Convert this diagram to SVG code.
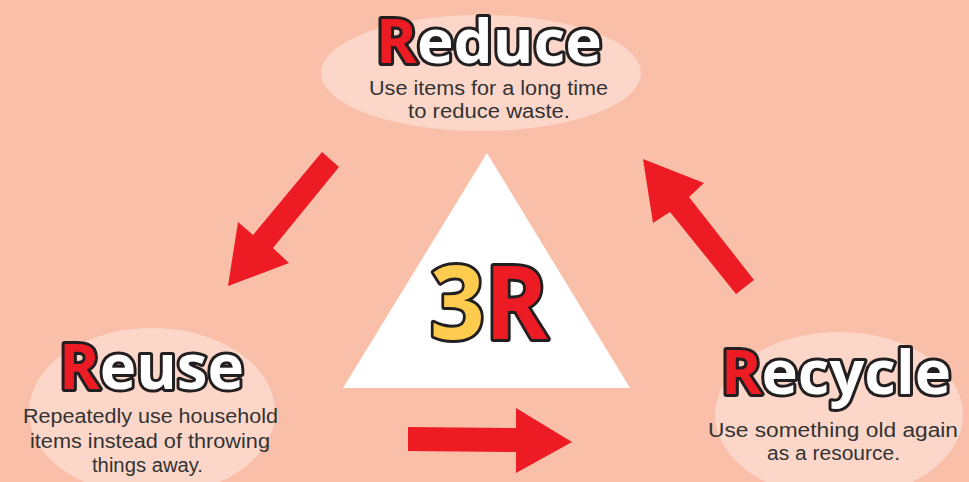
<svg xmlns="http://www.w3.org/2000/svg" width="969" height="482" viewBox="0 0 969 482">
<style>
.bg{fill:#F9BFA8}
.oval{fill:#FCD7C9}
.head{font-family:"Open Sans","Noto Sans",sans-serif;font-weight:bold;fill:#FFFFFF;stroke:#231F20;stroke-width:6;stroke-linejoin:round;paint-order:stroke}
.r{fill:#ED1C24}
.y{fill:#FDCB4E}
.desc{font-family:"Liberation Sans",Arial,sans-serif;font-size:19.5px;fill:#333333}
.arrow{fill:#ED1C24}
</style>
<rect class="bg" x="0" y="0" width="969" height="482"/>
<g id="center">
<polygon points="487,153 343,388 630,388" fill="#FFFFFF"/>
<text class="head" x="430" y="339" font-size="102" textLength="118" lengthAdjust="spacingAndGlyphs"><tspan class="y">3</tspan><tspan class="r">R</tspan></text>
</g>
<g id="reduce">
<ellipse class="oval" cx="481" cy="73" rx="160" ry="58"/>
<text class="head" x="376" y="63" font-size="60" textLength="226" lengthAdjust="spacingAndGlyphs"><tspan class="r">R</tspan>educe</text>
<text class="desc" x="369" y="95" textLength="239" lengthAdjust="spacingAndGlyphs">Use items for a long time</text>
<text class="desc" x="408" y="118" textLength="162" lengthAdjust="spacingAndGlyphs">to reduce waste.</text>
</g>
<g id="reuse">
<ellipse class="oval" cx="152" cy="412" rx="123" ry="84"/>
<text class="head" x="59" y="389" font-size="62" textLength="185" lengthAdjust="spacingAndGlyphs"><tspan class="r">R</tspan>euse</text>
<text class="desc" x="23" y="423" textLength="255" lengthAdjust="spacingAndGlyphs">Repeatedly use household</text>
<text class="desc" x="30" y="448" textLength="240" lengthAdjust="spacingAndGlyphs">items instead of throwing</text>
<text class="desc" x="92" y="472" textLength="111" lengthAdjust="spacingAndGlyphs">things away.</text>
</g>
<g id="recycle">
<ellipse class="oval" cx="839" cy="415" rx="124" ry="83"/>
<text class="head" x="721" y="394" font-size="60" textLength="230" lengthAdjust="spacingAndGlyphs"><tspan class="r">R</tspan>ecycle</text>
<text class="desc" x="708" y="437" textLength="250" lengthAdjust="spacingAndGlyphs">Use something old again</text>
<text class="desc" x="767" y="460" textLength="133" lengthAdjust="spacingAndGlyphs">as a resource.</text>
</g>
<g id="connectors">
<polygon class="arrow" points="322,152 339,167 273,248 289,263 228,286 238,222 253,235"/>
<polygon class="arrow" points="408,427 516,428 516,408 572,442 516,473 516,452 408,451"/>
<polygon class="arrow" points="736,294 754,280 689,197 704,183 643,159 653,223 670,212"/>
</g>
</svg>
